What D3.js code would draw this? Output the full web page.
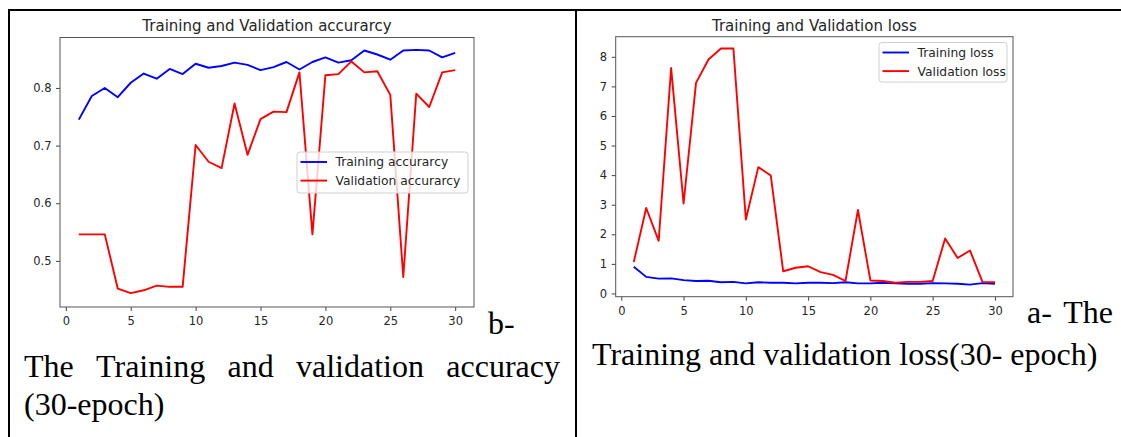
<!DOCTYPE html>
<html>
<head>
    <meta charset="utf-8">
    <script src="https://cdn.jsdelivr.net/npm/d3@7/dist/d3.min.js"></script>
    <style>
      body { margin: 0; background: #fff; }
      svg { display: block; }
    </style>
    <script type="text/javascript">
    "use strict";

    // Epoch numbers shared by both panels.
    var epochs = d3.range(1, 31);

    // Accuracy panel (b-).
    var trainAcc = [0.745, 0.786, 0.800, 0.784, 0.809, 0.825, 0.816, 0.833, 0.824, 0.842,
                    0.835, 0.838, 0.844, 0.840, 0.831, 0.836, 0.845, 0.832, 0.845, 0.853,
                    0.844, 0.848, 0.865, 0.858, 0.849, 0.865, 0.866, 0.865, 0.853, 0.861];
    var valAcc = [0.546, 0.546, 0.546, 0.452, 0.444, 0.449, 0.457, 0.455, 0.455, 0.701,
                  0.672, 0.661, 0.773, 0.684, 0.746, 0.759, 0.758, 0.827, 0.546, 0.822,
                  0.824, 0.846, 0.827, 0.829, 0.788, 0.472, 0.790, 0.767, 0.827, 0.831];

    // Loss panel (a-).
    var trainLoss = [0.90, 0.56, 0.50, 0.51, 0.45, 0.42, 0.43, 0.38, 0.39, 0.34,
                     0.38, 0.36, 0.36, 0.34, 0.36, 0.36, 0.35, 0.38, 0.34, 0.34,
                     0.36, 0.34, 0.33, 0.33, 0.35, 0.34, 0.33, 0.30, 0.35, 0.33];
    var valLoss = [1.06, 2.89, 1.78, 7.62, 3.04, 7.12, 7.91, 8.28, 8.28, 2.50,
                   4.27, 3.99, 0.75, 0.87, 0.92, 0.72, 0.63, 0.42, 2.82, 0.44,
                   0.42, 0.36, 0.39, 0.39, 0.42, 1.86, 1.20, 1.45, 0.39, 0.38];

    // Tick labels.
    var xTicks = [0, 5, 10, 15, 20, 25, 30];
    var accTicks = [0.5, 0.6, 0.7, 0.8];
    var lossTicks = [0, 1, 2, 3, 4, 5, 6, 7, 8];

    var accSeries = ["Training accurarcy", "Validation accurarcy"];
    var lossSeries = ["Training loss", "Validation loss"];
    var colors = ["#0000ff", "#ff0000"];

    // Draws one matplotlib-like panel into svg.
    function drawPanel(svg, cfg) {
      var g = svg.append("g");
      var x = d3.scaleLinear().domain([-0.45, 31.45]).range([cfg.left, cfg.right]);
      var y = d3.scaleLinear().domain(cfg.yDomain).range([cfg.bottom, cfg.top]);

      g.append("text")
          .attr("x", (cfg.left + cfg.right) / 2)
          .attr("y", 31)
          .attr("text-anchor", "middle")
          .style("font-family", "DejaVu Sans")
          .style("font-size", "15px")
          .style("fill", "#262626")
          .text(cfg.title);

      var line = d3.line()
          .x(function(d, i) { return x(epochs[i]); })
          .y(function(d) { return y(d); });

      cfg.series.forEach(function(s, i) {
        g.append("path")
            .datum(s)
            .attr("d", line)
            .attr("fill", "none")
            .attr("stroke", colors[i])
            .attr("stroke-width", 1.9)
            .attr("stroke-linejoin", "round");
      });

      var xAxis = g.append("g")
          .attr("transform", "translate(0," + cfg.bottom + ")")
          .call(d3.axisBottom(x).tickValues(xTicks).tickSize(4).tickPadding(6));
      var yAxis = g.append("g")
          .attr("transform", "translate(" + cfg.left + ",0)")
          .call(d3.axisLeft(y).tickValues(cfg.yTicks).tickSize(4).tickPadding(4.5)
                .tickFormat(d3.format(cfg.yFormat)));
      [xAxis, yAxis].forEach(function(a) {
        a.select(".domain").remove();
        a.selectAll("line").attr("stroke", "#444");
        a.selectAll("text")
            .style("font-family", "DejaVu Sans")
            .style("font-size", cfg.tickSize)
            .style("fill", "#262626");
      });

      // Spines.
      g.append("rect")
          .attr("x", cfg.left)
          .attr("y", cfg.top)
          .attr("width", cfg.right - cfg.left)
          .attr("height", cfg.bottom - cfg.top)
          .attr("fill", "none")
          .attr("stroke", "#555")
          .attr("stroke-width", 1);

      // Legend.
      var lg = cfg.legend;
      g.append("rect")
          .attr("x", lg.x).attr("y", lg.y)
          .attr("width", lg.w).attr("height", lg.h)
          .attr("rx", 3)
          .attr("fill", "#fff").attr("fill-opacity", 0.8)
          .attr("stroke", "#d0d0d0");
      cfg.names.forEach(function(name, i) {
        var yy = lg.y + 10 + i * 18.6;
        g.append("line")
            .attr("x1", lg.x + 3.5).attr("x2", lg.x + 30)
            .attr("y1", yy).attr("y2", yy)
            .attr("stroke", colors[i]).attr("stroke-width", 1.9);
        g.append("text")
            .attr("x", lg.x + 38.5)
            .attr("y", yy + 4.4)
            .style("font-family", "DejaVu Sans")
            .style("font-size", "12.3px")
            .style("fill", "#262626")
            .text(name);
      });
    }

    // Spreads words across [x0, x1] like justified text.
    function justify(svg, words, x0, x1, y) {
      var texts = words.map(function(w) {
        return svg.append("text").attr("y", y).attr("class", "cap").text(w);
      });
      var total = d3.sum(texts, function(t) { return t.node().getComputedTextLength(); });
      var gap = (x1 - x0 - total) / (words.length - 1);
      var pos = x0;
      texts.forEach(function(t) {
        t.attr("x", pos);
        pos += t.node().getComputedTextLength() + gap;
      });
    }
    </script>
</head>
<body>
    <script type="text/javascript">
    var svg = d3.select("body").append("svg")
        .attr("width", 1121)
        .attr("height", 437);

    svg.append("style").text(".cap { font-family: 'Liberation Serif', 'Times New Roman', serif; font-size: 32px; fill: #000; }");

    // Table cell borders.
    svg.append("line").attr("x1", 8).attr("x2", 1121).attr("y1", 10).attr("y2", 10)
        .attr("stroke", "#000").attr("stroke-width", 2);
    svg.append("line").attr("x1", 9).attr("x2", 9).attr("y1", 9).attr("y2", 437)
        .attr("stroke", "#000").attr("stroke-width", 2);
    svg.append("line").attr("x1", 576).attr("x2", 576).attr("y1", 9).attr("y2", 437)
        .attr("stroke", "#000").attr("stroke-width", 2);

    drawPanel(svg, {
      title: "Training and Validation accurarcy",
      left: 60, right: 474, top: 37.5, bottom: 307,
      yDomain: [0.420, 0.8875], yTicks: accTicks, yFormat: ".1f",
      tickSize: "11.5px",
      series: [trainAcc, valAcc], names: accSeries,
      legend: {x: 297, y: 152, w: 171, h: 41}
    });

    drawPanel(svg, {
      title: "Training and Validation loss",
      left: 615.7, right: 1013, top: 36.7, bottom: 296.7,
      yDomain: [-0.11, 8.68], yTicks: lossTicks, yFormat: "d",
      tickSize: "11.5px",
      series: [trainLoss, valLoss], names: lossSeries,
      legend: {x: 879, y: 42.5, w: 128, h: 39.5}
    });

    // Captions.
    svg.append("text").attr("class", "cap").attr("x", 488).attr("y", 334).text("b-");
    justify(svg, ["The", "Training", "and", "validation", "accuracy"], 24, 560, 377);
    svg.append("text").attr("class", "cap").attr("x", 24).attr("y", 415).text("(30-epoch)");

    svg.append("text").attr("class", "cap").attr("x", 1027).attr("y", 323).text("a-");
    svg.append("text").attr("class", "cap").attr("x", 1113).attr("y", 323)
        .attr("text-anchor", "end").text("The");
    svg.append("text").attr("class", "cap").attr("x", 592).attr("y", 365)
        .text("Training and validation loss(30- epoch)");
    </script>
</body>
</html>
